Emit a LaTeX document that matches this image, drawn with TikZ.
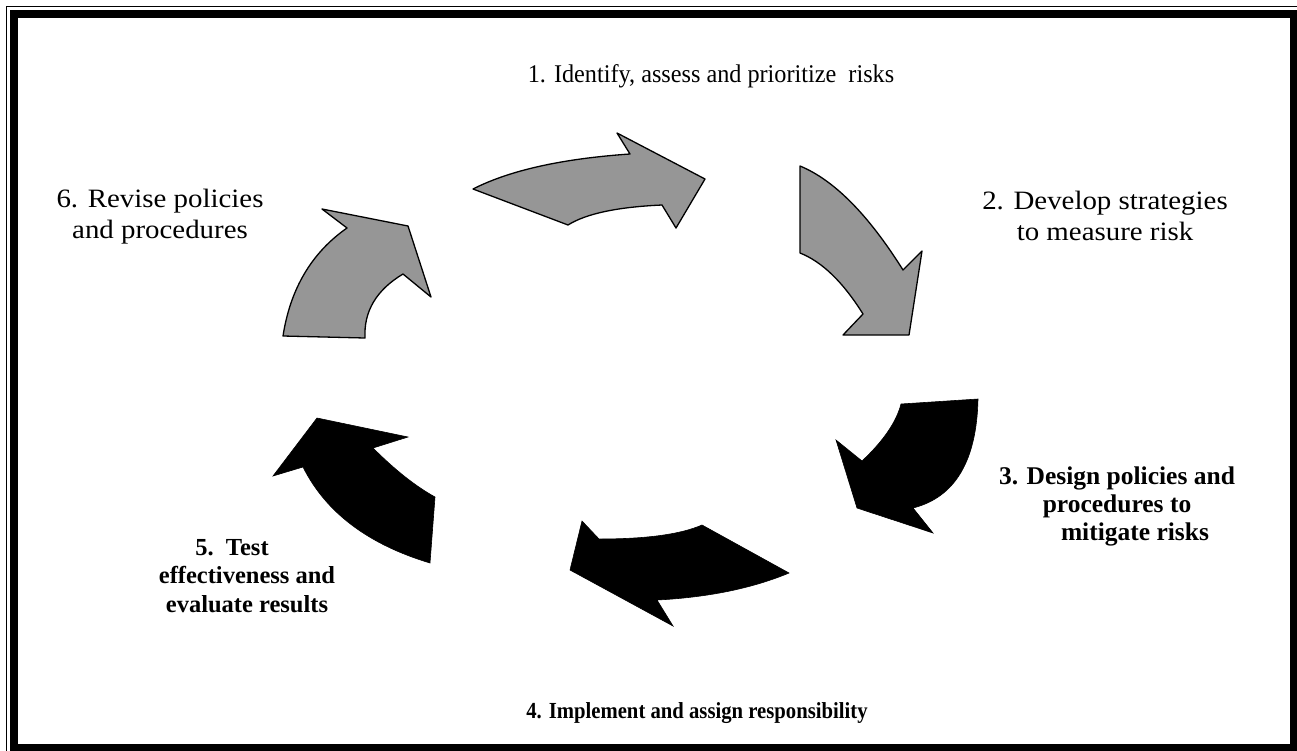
\documentclass[tikz,border=0pt]{standalone}
\usepackage{fontspec}
\setmainfont{Liberation Serif}
\newfontfamily\wideserif{Liberation Serif}[FakeStretch=1.09]
\newfontfamily\titleserif{Liberation Serif}[FakeStretch=0.95]
\newfontfamily\condserif{Liberation Serif}[FakeStretch=0.9]
\usetikzlibrary{calc}
\definecolor{arrowgray}{RGB}{150,150,150}
\tikzset{
  grayarrow/.style={fill=arrowgray, draw=black, line width=1.3pt, line join=round},
  blackarrow/.style={fill=black, draw=black, line width=0.6pt, line join=miter},
  plainlabel/.style={align=center, inner sep=0pt, font=\titleserif\fontsize{25.5}{30}\selectfont},
  widelabel/.style={align=center, inner sep=0pt, font=\wideserif\fontsize{26.5}{31}\selectfont},
  boldlabel/.style={align=center, inner sep=0pt, font=\bfseries\fontsize{24.5}{28.5}\selectfont}
}
\begin{document}
\begin{tikzpicture}[x=1pt,y=-1pt]
\useasboundingbox (0,0) rectangle (1297,750);
\clip (0,0) rectangle (1297,750);
\fill[white] (0,0) rectangle (1297,750);
% border
\draw[line width=1.3pt] (6.5,6.5) rectangle (1300.5,753.5);
\draw[line width=7.5pt] (13.75,13.75) rectangle (1293.75,747.25);

% arrow 1 (top, gray)
\path[grayarrow] (473,189) .. controls ($(473,189)!2/3!(528,161)$) and ($(630,154)!2/3!(528,161)$) .. (630,154)
  -- (617,133) -- (705,179) -- (676,228) -- (662,205)
  .. controls ($(662,205)!2/3!(595,208)$) and ($(568,225)!2/3!(595,208)$) .. (568,225) -- cycle;

% arrow 2 (right upper, gray)
\path[grayarrow] (800,166) .. controls ($(800,166)!2/3!(851,187)$) and ($(903,270)!2/3!(851,187)$) .. (903,270)
  -- (922,251) -- (909,335) -- (843,335) -- (863,314)
  .. controls ($(863,314)!2/3!(833,266)$) and ($(800,253)!2/3!(833,266)$) .. (800,253) -- cycle;

% arrow 3 (right lower, black)
\path[blackarrow] (978,399) .. controls ($(978,399)!2/3!(976,492)$) and ($(913,508)!2/3!(976,492)$) .. (913,508)
  -- (933,533) -- (857,508) -- (836,440) -- (862,461)
  .. controls ($(862,461)!2/3!(894,431)$) and ($(901,404)!2/3!(894,431)$) .. (901,404) -- cycle;

% arrow 4 (bottom, black)
\path[blackarrow] (702,525) .. controls ($(702,525)!2/3!(670,539)$) and ($(599,539)!2/3!(670,539)$) .. (599,539)
  -- (582,521) -- (570,570) -- (673,626) -- (657,600)
  .. controls ($(657,600)!2/3!(734,596)$) and ($(789,573)!2/3!(734,596)$) .. (789,573) -- cycle;

% arrow 5 (left lower, black)
\path[blackarrow] (435,497) .. controls ($(435,497)!2/3!(406,481)$) and ($(373,448)!2/3!(406,481)$) .. (373,448)
  -- (408,437) -- (317,418) -- (273,476) -- (303,467)
  .. controls ($(303,467)!2/3!(337,535)$) and ($(430,563)!2/3!(337,535)$) .. (430,563) -- cycle;

% arrow 6 (left upper, gray)
\path[grayarrow] (283,336) .. controls ($(283,336)!2/3!(294,265)$) and ($(347,228)!2/3!(294,265)$) .. (347,228)
  -- (322,209) -- (408,226) -- (431,297) -- (403,274)
  .. controls ($(403,274)!2/3!(363,298)$) and ($(365,338)!2/3!(363,298)$) .. (365,338) -- cycle;

% labels
\node[plainlabel] (l1) at (711,76) {1. Identify, assess and prioritize\ \ risks};
\node[widelabel] (l2) at (1105,216) {2. Develop strategies\\to measure risk};
\node[widelabel] (l6) at (160,217) {6. Revise policies\\and procedures};
\node[boldlabel, font=\bfseries\fontsize{25.5}{28}\selectfont] (l3) at (1117,506) {3. Design policies and\\procedures to\\\hspace*{36pt}mitigate risks};
\node[boldlabel] (l5) at (247,576) {5.\ \ Test\hspace*{30pt}\\effectiveness and\\evaluate results};
\node[boldlabel, font=\condserif\bfseries\fontsize{23}{28}\selectfont] (l4) at (697,713) {4. Implement and assign responsibility};
\end{tikzpicture}
\end{document}
